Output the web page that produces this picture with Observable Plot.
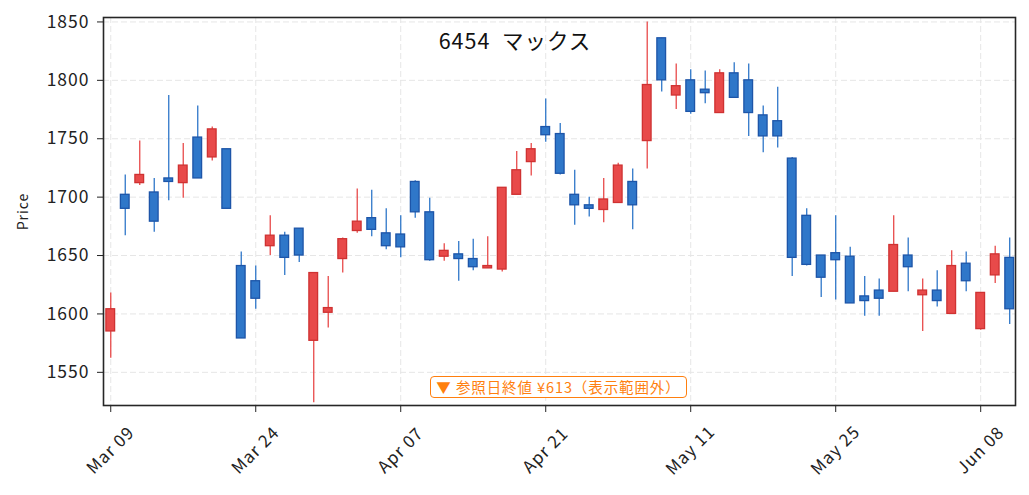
<!DOCTYPE html>
<html>
<head>
<meta charset="utf-8">
<script src="https://cdn.jsdelivr.net/npm/d3@7"></script>
<script src="https://cdn.jsdelivr.net/npm/@observablehq/plot@0.6"></script>
<style>
  html, body { margin: 0; padding: 0; background: #fff; }
  #wrap { position: relative; width: 1029px; height: 495px; font-family: "Noto Sans CJK JP", "Noto Sans", sans-serif; }
  #note { position: absolute; left: 430px; top: 376px; width: 255px; height: 20px; border: 1.5px solid #ff7f0e; border-radius: 4px; background: #fff; color: #ff7f0e; font-size: 14.5px; letter-spacing: 0.9px; line-height: 20px; text-align: center; white-space: nowrap; box-sizing: content-box; }
</style>
</head>
<body>
<div id="wrap"></div>
<script>
const title = "6454\u00a0\u00a0マックス";
const yLabel = "Price";
const noteText = "▼ 参照日終値 ¥613（表示範囲外）";

const dates = [
  "2026-03-09","2026-03-10","2026-03-11","2026-03-12","2026-03-13","2026-03-16","2026-03-17","2026-03-18","2026-03-19","2026-03-23",
  "2026-03-24","2026-03-25","2026-03-26","2026-03-27","2026-03-30","2026-03-31","2026-04-01","2026-04-02","2026-04-03","2026-04-06",
  "2026-04-07","2026-04-08","2026-04-09","2026-04-10","2026-04-13","2026-04-14","2026-04-15","2026-04-16","2026-04-17","2026-04-20",
  "2026-04-21","2026-04-22","2026-04-23","2026-04-24","2026-04-27","2026-04-28","2026-04-30","2026-05-01","2026-05-07","2026-05-08",
  "2026-05-11","2026-05-12","2026-05-13","2026-05-14","2026-05-15","2026-05-18","2026-05-19","2026-05-20","2026-05-21","2026-05-22",
  "2026-05-25","2026-05-26","2026-05-27","2026-05-28","2026-05-29","2026-06-01","2026-06-02","2026-06-03","2026-06-04","2026-06-05",
  "2026-06-08","2026-06-09","2026-06-10"
];
const open  = [1585,1702,1712,1704,1716,1712,1751,1734,1741,1641,1628,1658,1667,1673,1577,1601,1647,1671,1682,1669,1668,1713,1687,1649,1651,1647,1639,1638,1702,1730,1760,1754,1702,1693,1689,1695,1713,1748,1836,1787,1800,1792,1772,1806,1800,1770,1765,1733,1684,1650,1652,1649,1615,1620,1619,1650,1616,1620,1600,1643,1587,1633,1648];
const high  = [1618,1719,1748,1716,1787,1746,1778,1760,1741,1653,1641,1684,1670,1673,1635,1632,1665,1707,1706,1690,1684,1714,1699,1660,1662,1664,1666,1708,1739,1746,1784,1763,1723,1700,1716,1729,1724,1850,1836,1814,1809,1808,1809,1815,1814,1778,1794,1734,1690,1650,1684,1657,1632,1630,1684,1665,1630,1637,1654,1653,1618,1658,1665];
const low   = [1562,1667,1710,1670,1697,1699,1716,1731,1690,1579,1604,1650,1633,1644,1524,1588,1635,1669,1666,1655,1648,1682,1645,1645,1628,1637,1639,1636,1702,1718,1747,1719,1676,1683,1678,1695,1672,1724,1790,1775,1771,1780,1772,1785,1752,1738,1742,1632,1641,1614,1612,1609,1598,1598,1619,1619,1585,1606,1600,1619,1586,1626,1591];
const close = [1604,1690,1719,1679,1713,1727,1716,1758,1690,1579,1613,1667,1648,1650,1635,1605,1664,1679,1672,1658,1657,1687,1646,1654,1647,1640,1641,1708,1723,1741,1753,1720,1693,1690,1698,1727,1693,1796,1800,1795,1773,1789,1806,1785,1772,1752,1752,1648,1642,1631,1646,1609,1611,1613,1659,1640,1620,1611,1641,1628,1618,1651,1604];

const yTicks = [1550, 1600, 1650, 1700, 1750, 1800, 1850];
const tickEvery = 10;

const data = dates.map((d, i) => ({i, date: d, open: open[i], high: high[i], low: low[i], close: close[i], up: close[i] >= open[i]}));
const xTicks = data.filter(d => d.i % tickEvery === 0).map(d => d.i);
const fmt = d3.utcFormat("%b %d");
const tickLabel = i => fmt(new Date(dates[i] + "T00:00:00Z"));

const upFill = "#e84a4a", upStroke = "#cf3232";
const dnFill = "#2f77c9", dnStroke = "#1d55a8";

const chart = Plot.plot({
  width: 1029,
  height: 495,
  marginTop: 17,
  marginBottom: 90,
  marginLeft: 103,
  marginRight: 14,
  style: {fontFamily: "'Noto Sans CJK JP', 'Noto Sans', sans-serif", fontSize: "15px", color: "#222", background: "#fff", letterSpacing: "1px"},
  x: {type: "linear", domain: [-0.5, 62.4]},
  y: {domain: [1521.6, 1853.8]},
  marks: [
    Plot.gridY(yTicks, {stroke: "#e6e6e6", strokeOpacity: 1, strokeDasharray: "6,3", strokeWidth: 1}),
    Plot.gridX(xTicks, {stroke: "#e6e6e6", strokeOpacity: 1, strokeDasharray: "6,3", strokeWidth: 1}),
    Plot.ruleX(data, {x: "i", y1: "low", y2: "high", stroke: d => d.up ? upFill : dnFill, strokeWidth: 1.3}),
    Plot.rect(data, {x1: d => d.i - 0.3, x2: d => d.i + 0.3, y1: "open", y2: "close",
      fill: d => d.up ? upFill : dnFill, stroke: d => d.up ? upStroke : dnStroke, strokeWidth: 1.3}),
    Plot.axisY({ticks: yTicks, tickSize: 6, tickPadding: 8, fontSize: 17.5, tickFormat: d => String(d), label: null, stroke: "#222"}),
    Plot.axisX({ticks: xTicks, tickSize: 7, tickFormat: () => "", label: null, stroke: "#222"}),
    Plot.text(xTicks, {x: d => d, text: d => tickLabel(d), frameAnchor: "bottom", lineAnchor: "middle", textAnchor: "middle", dy: 45, rotate: -45, fontSize: 17, fill: "#222"}),
    Plot.text([yLabel], {frameAnchor: "left", textAnchor: "middle", lineAnchor: "middle", dx: -80, rotate: -90, fontSize: 14, fill: "#222"}),
    Plot.text([title], {frameAnchor: "top", textAnchor: "middle", lineAnchor: "middle", dx: -44.5, dy: 25, fontSize: 21.5, fill: "#111"}),
    Plot.frame({stroke: "#262626", strokeWidth: 1.6})
  ]
});

const wrap = document.getElementById("wrap");
wrap.appendChild(chart);
const note = document.createElement("div");
note.id = "note";
note.textContent = noteText;
wrap.appendChild(note);
</script>
</body>
</html>
